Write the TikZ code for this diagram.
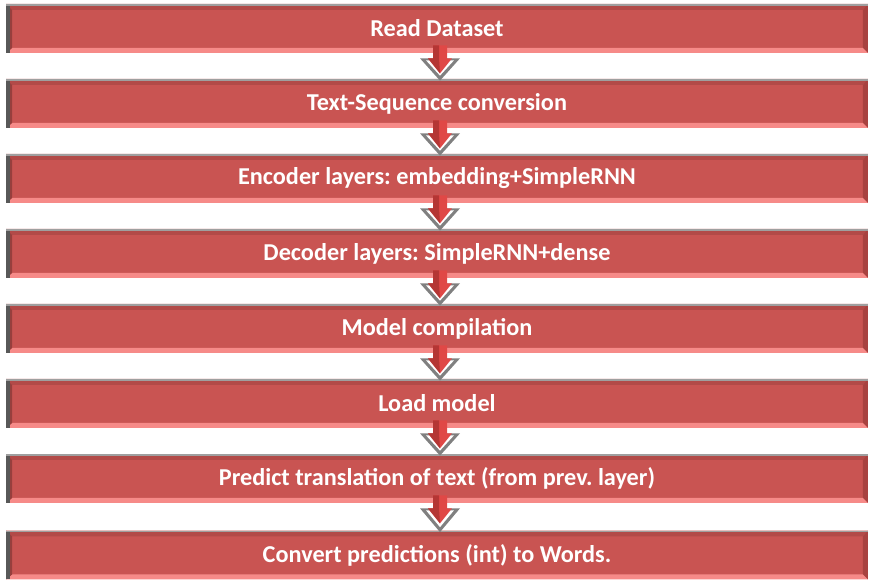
\documentclass[tikz,border=0pt]{standalone}
\usepackage{fontspec}
\setmainfont{Carlito}
\usetikzlibrary{calc}

\definecolor{barred}{RGB}{201,84,82}
\definecolor{bartop}{RGB}{178,74,72}
\definecolor{barright}{RGB}{168,66,64}
\definecolor{barlow}{RGB}{246,138,136}
\definecolor{baredge}{RGB}{88,88,88}
\definecolor{arrowred}{RGB}{224,72,70}
\definecolor{arrowdark}{RGB}{180,54,52}
\definecolor{arrowgray}{RGB}{128,128,128}

\tikzset{
  stepbar/.style={rectangle, fill=barred, minimum width=17.24cm, minimum height=0.98cm,
    inner sep=0pt, text=white, font=\fontsize{13.8}{16}\selectfont\bfseries,
    path picture={
      \path (path picture bounding box.south west) coordinate (bsw)
            (path picture bounding box.north east) coordinate (bne)
            (path picture bounding box.north west) coordinate (bnw)
            (path picture bounding box.south east) coordinate (bse);
      \fill[bartop] (bnw) -- (bne) -- ($(bne)+(-0.1cm,-0.12cm)$) -- ($(bnw)+(0.12cm,-0.12cm)$) -- cycle;
      \fill[barright] (bne) -- (bse) -- ($(bse)+(-0.1cm,0.1cm)$) -- ($(bne)+(-0.1cm,-0.12cm)$) -- cycle;
      \fill[barlow] (bsw) -- (bse) -- ($(bse)+(-0.1cm,0.1cm)$) -- ($(bsw)+(0.12cm,0.1cm)$) -- cycle;
      \fill[bartop!85!black] (bsw) -- (bnw) -- ($(bnw)+(0.12cm,-0.12cm)$) -- ($(bsw)+(0.12cm,0.1cm)$) -- cycle;
      \fill[baredge] (bsw) rectangle ($(bnw)+(0.07cm,0)$);
      \fill[gray!75] (bnw) rectangle ($(bne)+(0,-0.04cm)$);
    }},
}

% block arrow from one bar to the next
\newcommand{\flowarrow}[2]{%
  \path ($(#1.south)+(3,0)$) coordinate (atop) ($(#2.north)+(3,0)$) coordinate (atip);
  \fill[arrowgray] ($(atop)+(-20,5)$) -- ($(atop)+(20,5)$) -- ($(atip)+(0,2)$) -- cycle;
  \fill[white] ($(atop)+(-14,7)$) -- ($(atop)+(14,7)$) -- ($(atip)+(0,-3)$) -- cycle;
  \fill[arrowred] ($(atop)+(-7,-8)$) -- ($(atop)+(7,-8)$) -- ($(atop)+(7,5)$)
    -- ($(atop)+(12,5)$) -- ($(atop)+(0,20)$) -- ($(atop)+(-12,5)$) -- ($(atop)+(-7,5)$) -- cycle;
  \fill[arrowdark] ($(atop)+(-7,-8)$) -- ($(atop)+(-1,-8)$) -- ($(atop)+(-1,5)$)
    -- ($(atop)+(0,20)$) -- ($(atop)+(-12,5)$) -- ($(atop)+(-7,5)$) -- cycle;
}

\begin{document}
\frenchspacing
\begin{tikzpicture}[x=0.02cm, y=-0.02cm]
\useasboundingbox (0,0) rectangle (870,580);

\node[stepbar] (read) at (437,28.5) {Read Dataset};
\node[stepbar] (conv) at (437,103.5) {Text-Sequence conversion};
\node[stepbar] (enc) at (437,178.5) {Encoder layers: embedding+SimpleRNN};
\node[stepbar] (dec) at (437,253.5) {Decoder layers: SimpleRNN+dense};
\node[stepbar] (comp) at (437,328.5) {Model compilation};
\node[stepbar] (load) at (437,403.5) {Load model};
\node[stepbar] (pred) at (437,478.5) {Predict translation of text (from prev. layer)};
\node[stepbar] (words) at (437,555) {Convert predictions (int) to Words.};

\flowarrow{read}{conv}
\flowarrow{conv}{enc}
\flowarrow{enc}{dec}
\flowarrow{dec}{comp}
\flowarrow{comp}{load}
\flowarrow{load}{pred}
\flowarrow{pred}{words}
\end{tikzpicture}
\end{document}
